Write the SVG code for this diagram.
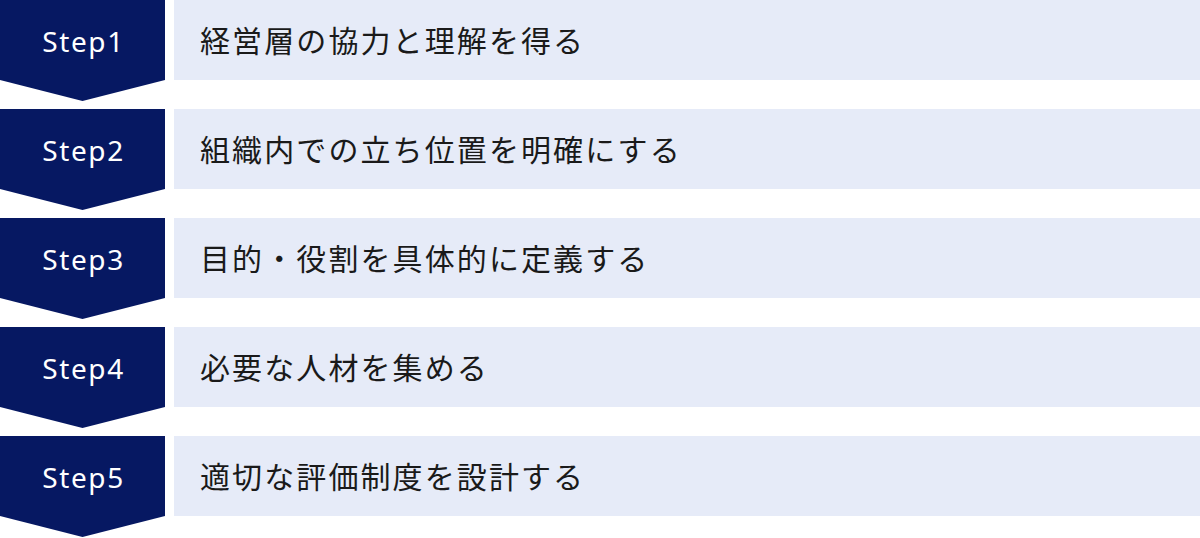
<svg xmlns="http://www.w3.org/2000/svg" width="1200" height="538" viewBox="0 0 1200 538">
<style>
.chev{fill:#061862}
.panel{fill:#e6ebf8}
.step{font-family:"Noto Sans","Noto Sans CJK JP",sans-serif;font-size:28px;font-weight:400;fill:#ffffff;text-anchor:middle;letter-spacing:1.6px}
.label{font-family:"Noto Sans CJK JP","Noto Sans",sans-serif;font-size:30px;fill:#1a1a1a;letter-spacing:2.1px}
</style>
<rect width="1200" height="538" fill="#ffffff"/>
<g id="step1">
<polygon class="chev" points="0,0 165,0 165,80 82.5,101 0,80"/>
<rect class="panel" x="174" y="0" width="1026" height="80"/>
<text class="step" x="83.5" y="52">Step1</text>
<text class="label" x="200" y="51.5">経営層の協力と理解を得る</text>
</g>
<g id="step2">
<polygon class="chev" points="0,109 165,109 165,189 82.5,210 0,189"/>
<rect class="panel" x="174" y="109" width="1026" height="80"/>
<text class="step" x="83.5" y="161">Step2</text>
<text class="label" x="200" y="160.5">組織内での立ち位置を明確にする</text>
</g>
<g id="step3">
<polygon class="chev" points="0,218 165,218 165,298 82.5,319 0,298"/>
<rect class="panel" x="174" y="218" width="1026" height="80"/>
<text class="step" x="83.5" y="270">Step3</text>
<text class="label" x="200" y="269.5">目的・役割を具体的に定義する</text>
</g>
<g id="step4">
<polygon class="chev" points="0,327 165,327 165,407 82.5,428 0,407"/>
<rect class="panel" x="174" y="327" width="1026" height="80"/>
<text class="step" x="83.5" y="379">Step4</text>
<text class="label" x="200" y="378.5">必要な人材を集める</text>
</g>
<g id="step5">
<polygon class="chev" points="0,436 165,436 165,516 82.5,537 0,516"/>
<rect class="panel" x="174" y="436" width="1026" height="80"/>
<text class="step" x="83.5" y="488">Step5</text>
<text class="label" x="200" y="487.5">適切な評価制度を設計する</text>
</g>
<g id="connectors"></g>
</svg>
